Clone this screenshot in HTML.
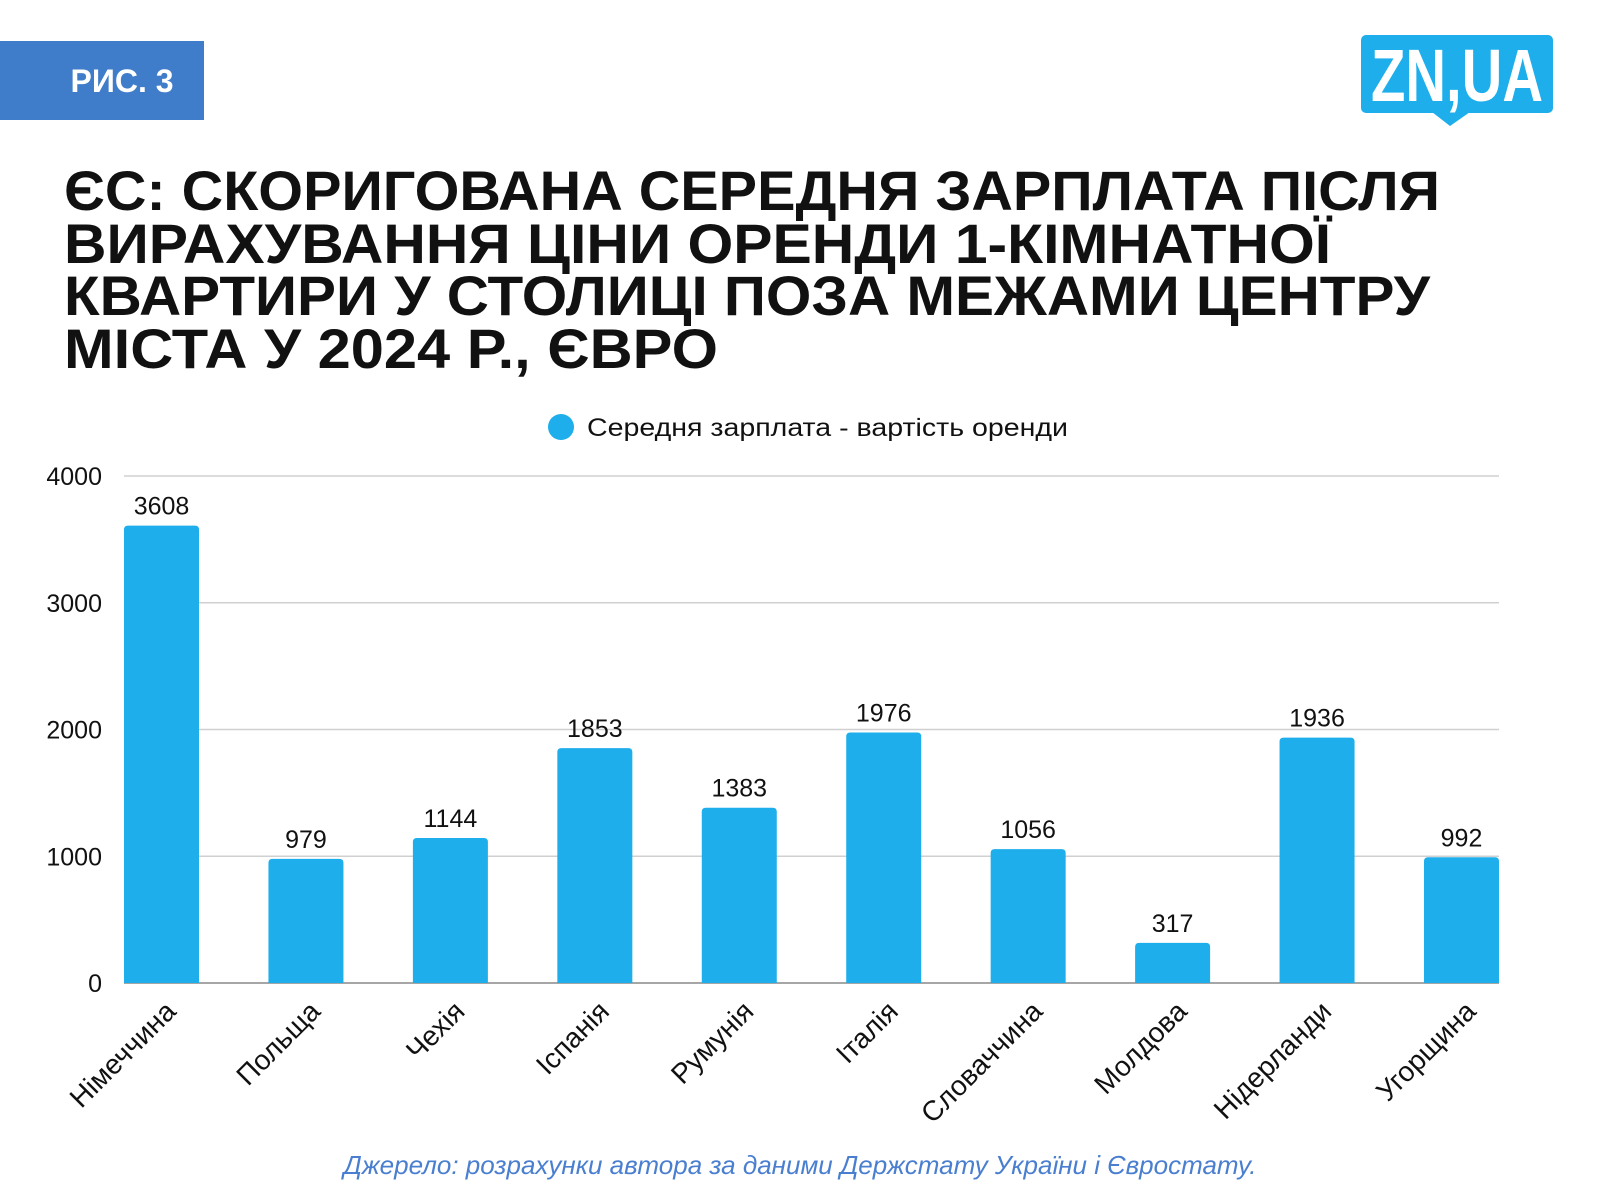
<!DOCTYPE html>
<html><head><meta charset="utf-8"><style>
html,body{margin:0;padding:0;background:#fff;}
svg{display:block;}
</style></head><body>
<svg id="chart" width="1600" height="1200" viewBox="0 0 1600 1200" xmlns="http://www.w3.org/2000/svg" font-family="'Liberation Sans', 'DejaVu Sans', sans-serif">
  <rect x="0" y="41" width="204" height="79" fill="#3f7cc9"/>
  <text x="122" y="92" text-anchor="middle" font-size="32" font-weight="bold" fill="#fff">РИС. 3</text>
  <g>
    <rect x="1361" y="35" width="192" height="78" rx="5" fill="#1eaeeb"/>
    <path d="M1432 112 L1470 112 L1450 126 Z" fill="#1eaeeb"/>
    <text x="1457" y="101" text-anchor="middle" font-size="74" font-weight="bold" fill="#fff" textLength="172" lengthAdjust="spacingAndGlyphs">ZN,UA</text>
  </g>
  <g font-weight="bold" font-size="56" fill="#111">
    <text x="64" y="210" textLength="1376" lengthAdjust="spacingAndGlyphs">ЄС: СКОРИГОВАНА СЕРЕДНЯ ЗАРПЛАТА ПІСЛЯ</text>
    <text x="64" y="263" textLength="1267" lengthAdjust="spacingAndGlyphs">ВИРАХУВАННЯ ЦІНИ ОРЕНДИ 1-КІМНАТНОЇ</text>
    <text x="64" y="315" textLength="1366" lengthAdjust="spacingAndGlyphs">КВАРТИРИ У СТОЛИЦІ ПОЗА МЕЖАМИ ЦЕНТРУ</text>
    <text x="64" y="368" textLength="654" lengthAdjust="spacingAndGlyphs">МІСТА У 2024 Р., ЄВРО</text>
  </g>
  <g>
    <circle cx="561" cy="427" r="13" fill="#1eaeeb"/>
    <text x="587" y="436" font-size="25" fill="#111" textLength="481" lengthAdjust="spacingAndGlyphs">Середня зарплата - вартість оренди</text>
  </g>
  <g id="grid"></g>
  <g id="bars"></g>
  <text x="800" y="1174" text-anchor="middle" font-size="26" font-style="italic" fill="#4a7fd0">Джерело: розрахунки автора за даними Держстату України і Євростату.</text>
</svg>
<script>
const categories = ["Німеччина","Польща","Чехія","Іспанія","Румунія","Італія","Словаччина","Молдова","Нідерланди","Угорщина"];
const values = [3608,979,1144,1853,1383,1976,1056,317,1936,992];
const yTicks = [0,1000,2000,3000,4000];

const NS = "http://www.w3.org/2000/svg";
const left = 124, right = 1499, y0 = 983, yTop = 476, yMax = 4000;
const barW = 75;
const pitch = (right - left - barW) / (categories.length - 1);
function y(v){ return y0 - (v / yMax) * (y0 - yTop); }
function x(i){ return left + i * pitch; }
function mk(tag, attrs, parent){
  const el = document.createElementNS(NS, tag);
  for (const k in attrs) el.setAttribute(k, attrs[k]);
  parent.appendChild(el);
  return el;
}
const grid = document.getElementById("grid");
yTicks.forEach(t => {
  const ln = mk("line", {x1:left, x2:right, y1:y(t), y2:y(t), stroke: t===0 ? "#888" : "#d0d0d0", "stroke-width": 1.5}, grid);
  
  
  const tx = mk("text", {x:102, y:y(t)+9, "text-anchor":"end", "font-size":25, fill:"#111"}, grid);
  tx.textContent = t;
  
  
});
const bars = document.getElementById("bars");
categories.forEach((c, i) => {
  const bx = x(i), by = y(values[i]);
  const r = mk("path", {d:`M${bx} ${y0} L${bx} ${by+4} Q${bx} ${by} ${bx+4} ${by} L${bx+barW-4} ${by} Q${bx+barW} ${by} ${bx+barW} ${by+4} L${bx+barW} ${y0} Z`, fill:"#1eaeeb"}, bars);
  
  
  const v = mk("text", {x:bx+barW/2, y:by-11, "text-anchor":"middle", "font-size":25, fill:"#111"}, bars);
  v.textContent = values[i];
  
  
  const cx = bx + barW/2 + 16, cy = y0 + 30;
  const l = mk("text", {x:cx, y:cy, "text-anchor":"end", "font-size":28, fill:"#111", transform:`rotate(-45 ${cx} ${cy})`}, bars);
  l.textContent = c;
  
  
});
</script>
</body></html>
